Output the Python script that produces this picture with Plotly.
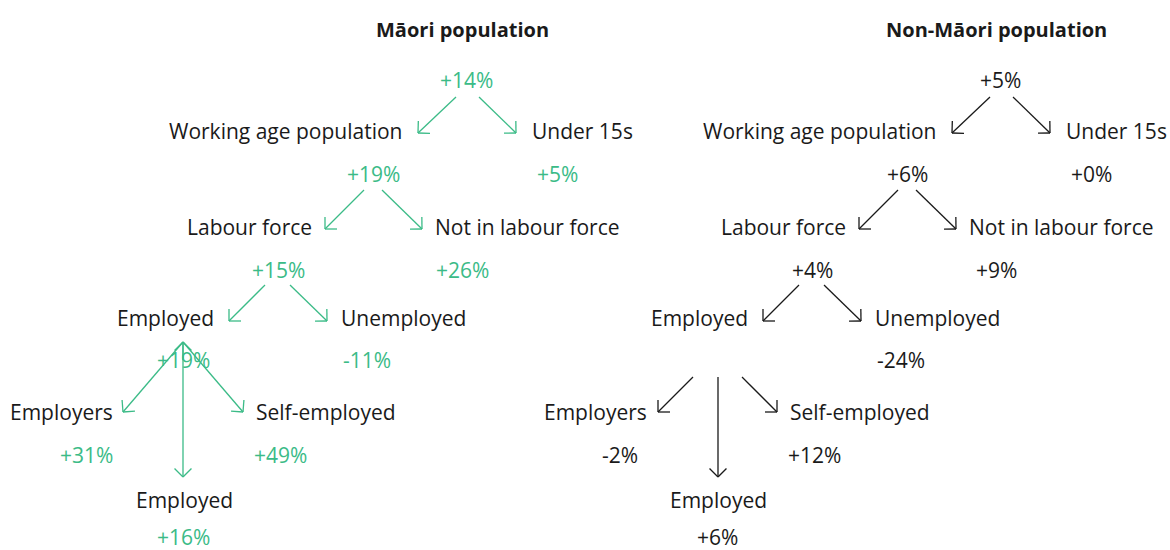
import plotly.graph_objects as go
import math

# ---------------- data ----------------
panels = ["Māori population", "Non-Māori population"]
panel_colors = ["#3bbb87", "#1a1a1a"]
node_labels = ["", "Working age population", "Under 15s", "Labour force",
               "Not in labour force", "Employed", "Unemployed",
               "Employers", "Self-employed", "Employed"]
maori_values = ["+14%", "+19%", "+5%", "+15%", "+26%", "+19%", "-11%",
                "+31%", "+49%", "+16%"]
non_maori_values = ["+5%", "+6%", "+0%", "+4%", "+9%", "", "-24%",
                    "-2%", "+12%", "+6%"]
values = [maori_values, non_maori_values]

# ---------------- layout (pixel coordinates, left panel) ----------------
W, H = 1170, 550
panel_offset = [0, 534]
title_pos = (462, 29)
label_pos = [None, (285, 131), (582, 131), (249, 227), (527, 227),
             (165, 318), (403, 318), (61, 412), (326, 412), (184, 500)]
value_pos = [(466, 80), (373, 174), (557, 174), (278, 270), (462, 270),
             (183, 360), (367, 360), (86, 455), (280, 455), (183, 537)]

common_arrows = [((456, 97), (418, 133)), ((479, 97), (516, 133)),
                 ((364, 190), (325, 229)), ((382, 190), (422, 229)),
                 ((265, 285), (229, 321)), ((290, 285), (327, 321))]
sub_arrows = [
    [((183, 342), (123, 412)), ((183, 342), (243, 412)), ((183, 342), (183, 477)),
     ((183, 360), (183, 342))],
    [((159, 377), (124, 412)), ((208, 377), (243, 412)), ((184, 377), (184, 477))],
]

FONT = "'Open Sans', 'Noto Sans', sans-serif"
FS = 21
HEAD = 12

fig = go.Figure()
annotations = []

for p, name in enumerate(panels):
    dx = panel_offset[p]
    col = panel_colors[p]
    annotations.append(dict(x=title_pos[0] + dx, y=title_pos[1], text="<b>%s</b>" % name,
                            showarrow=False, xanchor="center", yanchor="middle",
                            font=dict(family=FONT, size=20, color="#1a1a1a")))
    for i, lab in enumerate(node_labels):
        if lab and label_pos[i]:
            annotations.append(dict(x=label_pos[i][0] + dx, y=label_pos[i][1], text=lab,
                                    showarrow=False, xanchor="center", yanchor="middle",
                                    font=dict(family=FONT, size=FS, color="#1a1a1a")))
        v = values[p][i]
        if v:
            annotations.append(dict(x=value_pos[i][0] + dx, y=value_pos[i][1], text=v,
                                    showarrow=False, xanchor="center", yanchor="middle",
                                    font=dict(family=FONT, size=FS, color=col)))
    xs, ys = [], []
    for (x0, y0), (x1, y1) in common_arrows + sub_arrows[p]:
        x0 += dx; x1 += dx
        xs += [x0, x1, None]; ys += [y0, y1, None]
        ang = math.atan2(y0 - y1, x0 - x1)
        for s in (-1, 1):
            a = ang + s * math.pi / 4
            xs += [x1, x1 + HEAD * math.cos(a), None]
            ys += [y1, y1 + HEAD * math.sin(a), None]
    fig.add_trace(go.Scatter(x=xs, y=ys, mode="lines", hoverinfo="skip",
                             line=dict(color=col, width=1.3), showlegend=False))

fig.update_layout(
    width=W, height=H, margin=dict(l=0, r=0, t=0, b=0),
    paper_bgcolor="white", plot_bgcolor="white",
    xaxis=dict(range=[0, W], visible=False, fixedrange=True),
    yaxis=dict(range=[H, 0], visible=False, fixedrange=True),
    annotations=annotations, showlegend=False,
)
fig.write_html("out.html", config={"displayModeBar": False},
               post_script="document.body.style.margin='0';document.body.style.overflow='hidden';")
